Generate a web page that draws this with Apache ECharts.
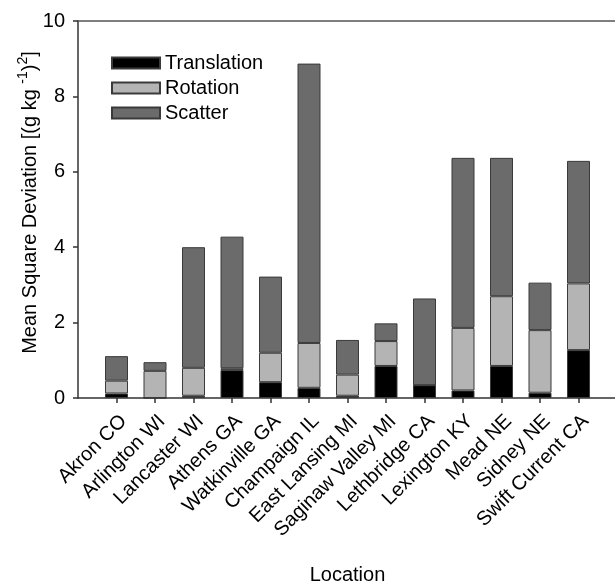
<!DOCTYPE html>
<html>
<head>
<meta charset="utf-8">
<script src="https://cdn.jsdelivr.net/npm/echarts@6/dist/echarts.min.js"></script>
<style>
  html, body { margin: 0; padding: 0; background: #fff; }
  #chart { width: 615px; height: 585px; }
</style>
</head>
<body>
<div id="chart"></div>
<script>
// Sites, padded with a blank slot on each side of the axis
const locations = ['Akron CO', 'Arlington WI', 'Lancaster WI', 'Athens GA', 'Watkinville GA',
  'Champaign IL', 'East Lansing MI', 'Saginaw Valley MI', 'Lethbridge CA', 'Lexington KY',
  'Mead NE', 'Sidney NE', 'Swift Current CA'];

// Components of mean square deviation, stacked bottom to top
const translation = [0.12, 0.00, 0.06, 0.74, 0.42, 0.27, 0.06, 0.85, 0.34, 0.20, 0.85, 0.14, 1.27];
const rotation    = [0.34, 0.72, 0.74, 0.05, 0.78, 1.19, 0.56, 0.66, 0.00, 1.66, 1.85, 1.66, 1.77];
const scatter     = [0.65, 0.23, 3.20, 3.49, 2.02, 7.41, 0.92, 0.47, 2.30, 4.51, 3.67, 1.26, 3.25];

const yTicks = [0, 2, 4, 6, 8, 10];

const categories = [''].concat(locations, ['']);
const pad = arr => [null].concat(arr, [null]);

const FONT = 'Liberation Sans, Arial, sans-serif';
const FS = 20;
const AXIS_COLOR = '#333';

const chart = echarts.init(document.getElementById('chart'), null, { renderer: 'canvas' });

function barSeries(name, data, color) {
  return {
    name: name,
    type: 'bar',
    stack: 'msd',
    data: pad(data),
    barWidth: 23,
    itemStyle: { color: color, borderColor: '#3a3a3a', borderWidth: 1 },
    emphasis: { disabled: true }
  };
}

chart.setOption({
  animation: false,
  textStyle: { fontFamily: FONT },
  grid: { left: 78, top: 21, width: 539, bottom: 187, containLabel: false, outerBoundsMode: 'none' },
  legend: {
    orient: 'vertical',
    left: 106,
    top: 48,
    itemWidth: 48,
    itemHeight: 11,
    itemGap: 5,
    icon: 'rect',
    textStyle: { fontSize: FS, color: '#000', fontFamily: FONT },
    data: ['Translation', 'Rotation', 'Scatter']
  },
  xAxis: [{
    type: 'category',
    data: categories,
    boundaryGap: false,
    name: 'Location',
    nameLocation: 'middle',
    nameGap: 167,
    nameMoveOverlap: false,
    nameTextStyle: { fontSize: FS, color: '#000', fontFamily: FONT },
    axisLine: { lineStyle: { color: AXIS_COLOR, width: 1.5 } },
    axisTick: {
      length: 5,
      interval: (i) => i > 0 && i < categories.length - 1,
      lineStyle: { color: AXIS_COLOR, width: 1.5 }
    },
    axisLabel: {
      rotate: 45,
      interval: 0,
      margin: 13,
      align: 'right',
      verticalAlign: 'top',
      fontSize: FS,
      color: '#000',
      fontFamily: FONT
    },
    splitLine: { show: false }
  }, {
    type: 'category',
    data: categories,
    boundaryGap: false,
    position: 'top',
    axisLine: { lineStyle: { color: '#555', width: 1.5 } },
    axisTick: { show: false },
    axisLabel: { show: false },
    splitLine: { show: false }
  }],
  yAxis: {
    type: 'value',
    min: yTicks[0],
    max: yTicks[yTicks.length - 1],
    interval: yTicks[1] - yTicks[0],
    name: '{n|Mean Square Deviation [(g kg }{s|-1}{n|)}{s|2}{n|]}',
    nameLocation: 'middle',
    nameGap: 38,
    nameMoveOverlap: false,
    nameRotate: 90,
    nameTextStyle: {
      padding: [0, 0, 0, 14],
      rich: {
        n: { fontSize: FS, color: '#000', fontFamily: FONT, verticalAlign: 'bottom', lineHeight: 24 },
        s: { fontSize: 14, color: '#000', fontFamily: FONT, verticalAlign: 'top', lineHeight: 24, padding: [0, 0, 8, 0] }
      }
    },
    axisLine: { show: true, lineStyle: { color: AXIS_COLOR, width: 1.5 } },
    axisTick: { show: true, length: 5, lineStyle: { color: AXIS_COLOR, width: 1.5 } },
    axisLabel: { margin: 13, fontSize: FS, color: '#000', fontFamily: FONT },
    splitLine: { show: false }
  },
  series: [
    barSeries('Translation', translation, '#000000'),
    barSeries('Rotation', rotation, '#b4b4b4'),
    barSeries('Scatter', scatter, '#6b6b6b')
  ]
});
</script>
</body>
</html>
